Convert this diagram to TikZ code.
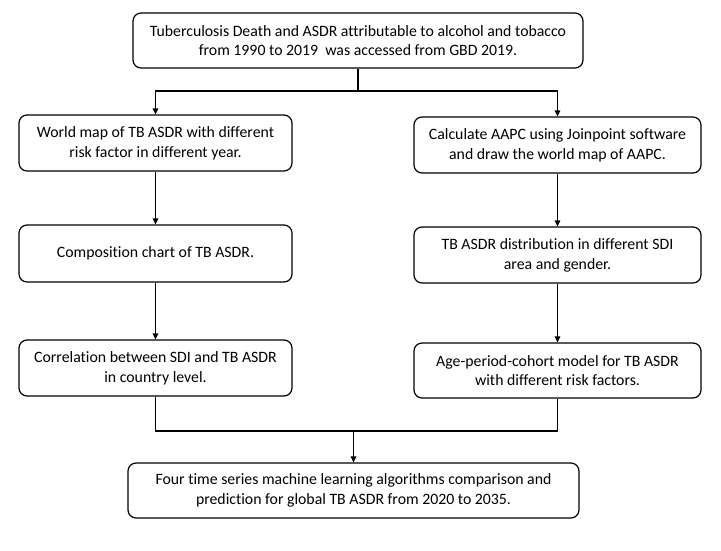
\documentclass[tikz,border=0pt]{standalone}
\usepackage{fontspec}
\setmainfont{Carlito}[Ligatures=NoCommon]
\usetikzlibrary{arrows.meta}
\begin{document}
\begin{tikzpicture}[x=1pt,y=-1pt,
  box/.style={draw=black, line width=1.2pt, rounded corners=8pt, align=center,
    inner sep=0pt, font=\fontsize{15.8}{19.8}\selectfont},
  link/.style={line width=1.2pt},
  arr/.style={line width=1.2pt, -{Triangle[length=6pt,width=5.5pt]}}]
\useasboundingbox (0,0) rectangle (721,550);
\node[box, minimum width=450pt, minimum height=55pt] (top) at (358,40.5)
  {Tuberculosis Death and ASDR attributable to alcohol and tobacco\\from 1990 to 2019\ \ was accessed from GBD 2019.};
\node[box, minimum width=273pt, minimum height=56pt] (l1) at (155.5,143)
  {World map of TB ASDR with different\\risk factor in different year.};
\node[box, minimum width=287pt, minimum height=56pt] (r1) at (557.5,145)
  {Calculate AAPC using Joinpoint software\\and draw the world map of AAPC.};
\node[box, minimum width=273pt, minimum height=57pt] (l2) at (155.5,253.5)
  {Composition chart of TB ASDR.};
\node[box, minimum width=287pt, minimum height=56pt] (r2) at (557.5,255)
  {TB ASDR distribution in different SDI\\area and gender.};
\node[box, minimum width=273pt, minimum height=56pt] (l3) at (155.5,368)
  {Correlation between SDI and TB ASDR\\in country level.};
\node[box, minimum width=287pt, minimum height=55pt] (r3) at (557.5,370.5)
  {Age-period-cohort model for TB ASDR\\with different risk factors.};
\node[box, minimum width=451pt, minimum height=55pt] (bot) at (353.5,490.5)
  {Four time series machine learning algorithms comparison and\\prediction for global TB ASDR from 2020 to 2035.};
\coordinate (s) at (358,91);
\coordinate (j) at (353.5,431);
\draw[link] (top.south) -- (s);
\draw[arr] (s) -| (l1.north);
\draw[arr] (s) -| (r1.north);
\draw[arr] (l1) -- (l2);
\draw[arr] (l2) -- (l3);
\draw[arr] (r1) -- (r2);
\draw[arr] (r2) -- (r3);
\draw[link] (l3.south) |- (j) -| (r3.south);
\draw[arr] (j) -- (bot.north);
\end{tikzpicture}
\end{document}
